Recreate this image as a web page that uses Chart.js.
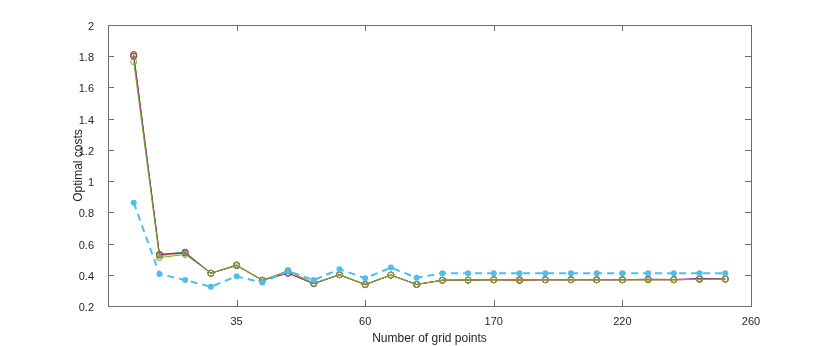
<!DOCTYPE html>
<html>
<head>
<meta charset="utf-8">
<script src="https://cdn.jsdelivr.net/npm/chart.js@4"></script>
<style>
  html, body { margin: 0; padding: 0; background: #fff; }
  #wrap { width: 830px; height: 346px; }
</style>
</head>
<body>
<div id="wrap"><canvas id="myChart" width="830" height="346"></canvas></div>
<script>
// x positions are plot indices; only every 5th one carries a label
const xIndex = [1, 2, 3, 4, 5, 6, 7, 8, 9, 10, 11, 12, 13, 14, 15, 16, 17, 18, 19, 20, 21, 22, 23, 24];
const xTickPos = [5, 10, 15, 20, 25];
const xTickLabels = ['35', '60', '170', '220', '260'];

const costBlue   = [1.81, 0.53, 0.545, 0.41, 0.46, 0.365, 0.425, 0.345, 0.40, 0.338, 0.398, 0.338, 0.365, 0.366, 0.368, 0.368, 0.368, 0.368, 0.368, 0.368, 0.368, 0.368, 0.372, 0.372];
const costRed    = [1.81, 0.525, 0.54, 0.41, 0.46, 0.365, 0.41, 0.345, 0.40, 0.338, 0.398, 0.338, 0.365, 0.366, 0.368, 0.362, 0.368, 0.368, 0.368, 0.368, 0.368, 0.368, 0.372, 0.372];
const costYellow = [1.80, 0.52, 0.54, 0.41, 0.465, 0.365, 0.425, 0.345, 0.40, 0.338, 0.398, 0.338, 0.365, 0.366, 0.368, 0.368, 0.368, 0.368, 0.368, 0.368, 0.368, 0.368, 0.372, 0.372];
const costPurple = [1.80, 0.53, 0.54, 0.41, 0.46, 0.365, 0.41, 0.342, 0.40, 0.336, 0.398, 0.338, 0.365, 0.366, 0.368, 0.368, 0.368, 0.368, 0.368, 0.368, 0.372, 0.370, 0.376, 0.374];
const costGreen  = [1.765, 0.51, 0.53, 0.41, 0.462, 0.362, 0.425, 0.345, 0.40, 0.338, 0.398, 0.338, 0.365, 0.366, 0.368, 0.368, 0.368, 0.368, 0.368, 0.368, 0.368, 0.368, 0.370, 0.372];
const costDashed = [0.862, 0.405, 0.366, 0.324, 0.39, 0.35, 0.424, 0.366, 0.436, 0.378, 0.446, 0.381, 0.41, 0.41, 0.41, 0.41, 0.41, 0.41, 0.41, 0.41, 0.41, 0.41, 0.41, 0.41];

const axisColor = '#6e6e6e';
const textColor = '#262626';
const fontFamily = "'Liberation Sans', Arial, Helvetica, sans-serif";

function toPoints(values) {
    return values.map((v, i) => ({ x: xIndex[i], y: v }));
}

function solid(color, values, order) {
    return {
        data: toPoints(values),
        borderColor: color,
        borderWidth: 1,
        pointRadius: 3,
        pointBorderWidth: 1,
        pointBorderColor: color,
        pointBackgroundColor: 'rgba(0,0,0,0)',
        order: order
    };
}

// matlab-style box with inward ticks on all four sides
const boxPlugin = {
    id: 'box',
    afterDraw(chart) {
        const { ctx, chartArea: a, scales } = chart;
        const len = 6;
        ctx.save();
        ctx.strokeStyle = axisColor;
        ctx.lineWidth = 1;
        ctx.strokeRect(a.left + 0.5, a.top + 0.5, a.right - a.left, a.bottom - a.top);
        ctx.beginPath();
        scales.x.ticks.forEach(t => {
            const px = Math.round(scales.x.getPixelForValue(t.value)) + 0.5;
            ctx.moveTo(px, a.bottom);
            ctx.lineTo(px, a.bottom - len);
            ctx.moveTo(px, a.top);
            ctx.lineTo(px, a.top + len);
        });
        scales.y.ticks.forEach(t => {
            const py = Math.round(scales.y.getPixelForValue(t.value)) + 0.5;
            ctx.moveTo(a.left, py);
            ctx.lineTo(a.left + len, py);
            ctx.moveTo(a.right, py);
            ctx.lineTo(a.right - len, py);
        });
        ctx.stroke();
        ctx.restore();
    }
};

const ctx = document.getElementById('myChart').getContext('2d');
const myChart = new Chart(ctx, {
    type: 'line',
    data: {
        datasets: [
            solid('#0072BD', costBlue, 5),
            solid('#D95319', costRed, 4),
            solid('#EDB120', costYellow, 3),
            solid('#7E2F8E', costPurple, 2),
            solid('#77AC30', costGreen, 1),
            {
                data: toPoints(costDashed),
                borderColor: '#4DBEEE',
                borderWidth: 2,
                borderDash: [7, 5],
                pointRadius: 3,
                pointBorderWidth: 0,
                pointBackgroundColor: '#4DBEEE',
                order: 0
            }
        ]
    },
    options: {
        responsive: false,
        animation: false,
        events: [],
        layout: { padding: { left: 0, right: 79, top: 25, bottom: 0 } },
        plugins: {
            legend: { display: false },
            tooltip: { enabled: false }
        },
        scales: {
            x: {
                type: 'linear',
                min: 0,
                max: 25,
                afterBuildTicks: scale => {
                    scale.ticks = xTickPos.map(v => ({ value: v }));
                },
                afterFit: scale => { scale.height = 40; },
                grid: { display: false },
                border: { display: false },
                ticks: {
                    color: textColor,
                    font: { family: fontFamily, size: 11 },
                    padding: 1,
                    maxRotation: 0,
                    callback: v => xTickLabels[xTickPos.indexOf(v)] ?? ''
                },
                title: {
                    display: true,
                    text: 'Number of grid points',
                    color: textColor,
                    font: { family: fontFamily, size: 12 },
                    padding: { top: 0, bottom: 0 }
                }
            },
            y: {
                min: 0.2,
                max: 2,
                afterFit: scale => { scale.width = 108; },
                grid: { display: false },
                border: { display: false },
                ticks: {
                    stepSize: 0.2,
                    color: textColor,
                    font: { family: fontFamily, size: 11 },
                    padding: 6,
                    labelOffset: 2,
                    callback: v => String(Math.round(v * 10) / 10)
                },
                title: {
                    display: true,
                    text: 'Optimal costs',
                    color: textColor,
                    font: { family: fontFamily, size: 12 },
                    padding: { top: 71, bottom: 0 }
                }
            }
        }
    },
    plugins: [boxPlugin]
});
</script>
</body>
</html>
